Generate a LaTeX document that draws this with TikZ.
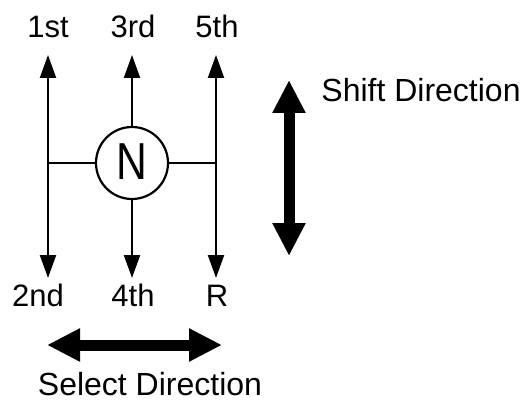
\documentclass[tikz,border=0pt]{standalone}
\usepackage{fontspec}
\setmainfont{Liberation Sans}
\usetikzlibrary{arrows.meta}
\begin{document}
\begin{tikzpicture}[x=1pt,y=-1pt,
  thin line/.style={line width=2.2pt,line cap=butt},
  gear arrow/.style={thin line,-{Triangle[length=23pt,width=16pt]}},
  big arrow/.style={line width=11pt,{Triangle[length=33pt,width=31pt]}-{Triangle[length=33pt,width=31pt]}},
  gearlabel/.style={anchor=base,inner sep=0pt,font=\fontsize{31}{32}\selectfont},
  dirlabel/.style={anchor=base,inner sep=0pt,font=\fontsize{32}{33}\selectfont}]
\useasboundingbox (0,0) rectangle (527,401);
% neutral
\node[draw,circle,line width=2.2pt,minimum size=72pt,inner sep=0pt] (N) at (132,163) {};
\node[inner sep=0pt,font=\fontsize{52}{52}\selectfont] (Nt) at (132,162) {\scalebox{0.82}[1]{N}};
% junctions
\coordinate (jl) at (48,163);
\coordinate (jr) at (216,163);
% arrow tips
\coordinate (t1) at (48,55);
\coordinate (t2) at (48,278);
\coordinate (t3) at (132,55);
\coordinate (t4) at (132,278);
\coordinate (t5) at (216,55);
\coordinate (tR) at (216,278);
% labels
\node[gearlabel] (l1) at (48,38) {1st};
\node[gearlabel] (l3) at (133,38) {3rd};
\node[gearlabel] (l5) at (217,38) {5th};
\node[gearlabel] (l2) at (38,306) {2nd};
\node[gearlabel] (l4) at (133,306) {4th};
\node[gearlabel] (lR) at (217,306) {R};
% gate
\draw[thin line] (jl) -- (N.west);
\draw[thin line] (N.east) -- (jr);
\draw[gear arrow] (jl) -- (t1);
\draw[gear arrow] (jl) -- (t2);
\draw[gear arrow] (N.north) -- (t3);
\draw[gear arrow] (N.south) -- (t4);
\draw[gear arrow] (jr) -- (t5);
\draw[gear arrow] (jr) -- (tR);
% direction arrows
\coordinate (sa) at (289,80);
\coordinate (sb) at (289,256);
\draw[big arrow] (sa) -- (sb);
\node[dirlabel] (shift) at (421,102) {Shift Direction};
\coordinate (ea) at (47,345);
\coordinate (eb) at (222,345);
\draw[big arrow] (ea) -- (eb);
\node[dirlabel] (select) at (150,395) {Select Direction};
\end{tikzpicture}
\end{document}
